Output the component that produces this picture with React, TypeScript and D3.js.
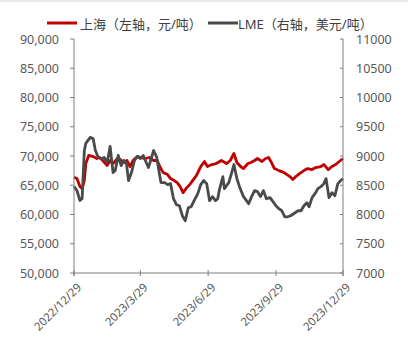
import React from "react";
import * as d3 from "d3";

const shDates = ["2022-12-29","2023-01-02","2023-01-06","2023-01-09","2023-01-12","2023-01-14","2023-01-18","2023-01-24","2023-01-29","2023-02-02","2023-02-06","2023-02-12","2023-02-16","2023-02-20","2023-02-26","2023-03-02","2023-03-07","2023-03-11","2023-03-15","2023-03-19","2023-03-25","2023-03-30","2023-04-05","2023-04-10","2023-04-16","2023-04-21","2023-04-25","2023-04-29","2023-05-05","2023-05-09","2023-05-14","2023-05-18","2023-05-22","2023-05-26","2023-05-31","2023-06-04","2023-06-08","2023-06-13","2023-06-19","2023-06-24","2023-06-28","2023-07-04","2023-07-10","2023-07-17","2023-07-24","2023-07-29","2023-08-03","2023-08-07","2023-08-12","2023-08-16","2023-08-22","2023-08-26","2023-08-31","2023-09-04","2023-09-10","2023-09-15","2023-09-19","2023-09-23","2023-09-27","2023-10-03","2023-10-07","2023-10-12","2023-10-18","2023-10-22","2023-10-26","2023-10-31","2023-11-06","2023-11-11","2023-11-17","2023-11-22","2023-11-29","2023-12-03","2023-12-09","2023-12-14","2023-12-19","2023-12-24","2023-12-29"];
const shValues = [66360,66140,64770,64420,65800,68710,70090,69910,69570,69740,69230,68370,69230,68710,69570,69400,68885,69230,68200,69230,69910,69740,69570,69740,69230,69230,68030,67170,66825,66140,65800,65450,64765,63735,64595,65110,65800,66650,68200,69060,68200,68540,68710,69230,68710,69230,70430,68885,68200,67855,68710,68885,69230,69570,69060,69570,69740,68885,67855,67510,67340,67000,66480,65970,66480,67000,67510,67855,67680,68030,68200,68540,67680,68200,68540,69060,69570];

const lmeDates = ["2022-12-29","2023-01-02","2023-01-06","2023-01-09","2023-01-12","2023-01-14","2023-01-17","2023-01-20","2023-01-24","2023-01-27","2023-01-31","2023-02-04","2023-02-08","2023-02-12","2023-02-16","2023-02-20","2023-02-23","2023-02-27","2023-03-03","2023-03-07","2023-03-10","2023-03-13","2023-03-17","2023-03-21","2023-03-25","2023-03-29","2023-04-02","2023-04-06","2023-04-09","2023-04-12","2023-04-16","2023-04-20","2023-04-22","2023-04-26","2023-05-01","2023-05-05","2023-05-09","2023-05-13","2023-05-17","2023-05-21","2023-05-25","2023-05-29","2023-06-02","2023-06-06","2023-06-10","2023-06-15","2023-06-19","2023-06-23","2023-06-27","2023-07-01","2023-07-05","2023-07-09","2023-07-12","2023-07-14","2023-07-19","2023-07-21","2023-07-24","2023-07-27","2023-07-31","2023-08-03","2023-08-07","2023-08-11","2023-08-16","2023-08-20","2023-08-23","2023-08-27","2023-08-31","2023-09-04","2023-09-08","2023-09-12","2023-09-16","2023-09-21","2023-09-25","2023-09-29","2023-10-03","2023-10-07","2023-10-11","2023-10-15","2023-10-19","2023-10-23","2023-10-29","2023-11-02","2023-11-06","2023-11-10","2023-11-13","2023-11-17","2023-11-21","2023-11-25","2023-11-29","2023-12-03","2023-12-06","2023-12-10","2023-12-14","2023-12-18","2023-12-22","2023-12-26","2023-12-29"];
const lmeValues = [8480,8410,8240,8270,9090,9215,9266,9318,9300,9094,8974,8957,8974,8888,9163,8717,8751,9009,8837,8923,8888,8580,8717,8923,8991,8957,9009,8888,8803,8923,9094,8991,8837,8545,8545,8511,8528,8270,8167,8150,7979,7893,8116,8133,8236,8356,8511,8580,8528,8236,8305,8236,8270,8408,8648,8442,8494,8545,8717,8854,8614,8459,8305,8236,8185,8305,8408,8391,8305,8408,8270,8288,8219,8150,8099,8064,7961,7961,7979,8013,8064,8064,8150,8202,8133,8288,8356,8442,8476,8528,8614,8288,8373,8322,8528,8580,8614];

const xTickDates = ["2022-12-29","2023-03-29","2023-06-29","2023-09-29","2023-12-29"];
const xTickLabels = ["2022/12/29","2023/3/29","2023/6/29","2023/9/29","2023/12/29"];
const leftTicks = [50000,55000,60000,65000,70000,75000,80000,85000,90000];
const rightTicks = [7000,7500,8000,8500,9000,9500,10000,10500,11000];
const legendLabels = ["上海（左轴，元/吨）","LME（右轴，美元/吨）"];

const RED = "#C00000";
const GRAY = "#4a4a4a";
const AXIS = "#7f7f7f";
const TEXT = "#595959";
const FONT = "'Noto Sans', 'Noto Sans CJK SC', sans-serif";

export default function App() {
  const parse = d3.timeParse("%Y-%m-%d");
  const left = 74, right = 343, top = 39, bottom = 273;
  const x = d3.scaleTime()
    .domain([parse("2022-12-29") as Date, parse("2023-12-29") as Date])
    .range([left, right]);
  const yL = d3.scaleLinear().domain([50000, 90000]).range([bottom, top]);
  const yR = d3.scaleLinear().domain([7000, 11000]).range([bottom, top]);

  const shData = shDates.map((d, i) => ({ d: parse(d) as Date, v: shValues[i] }));
  const lmeData = lmeDates.map((d, i) => ({ d: parse(d) as Date, v: lmeValues[i] }));

  const shLine = d3.line<{ d: Date; v: number }>().x(p => x(p.d)).y(p => yL(p.v));
  const lmeLine = d3.line<{ d: Date; v: number }>().x(p => x(p.d)).y(p => yR(p.v));
  const fmt = d3.format(",");

  return (
    <svg width={412} height={360} style={{ position: "absolute", left: 0, top: 0, background: "#fff" }} fontFamily={FONT}>
      <rect x={0} y={0} width={412} height={360} fill="#fff" />
      <line x1={0} x2={408} y1={1} y2={1} stroke="#d4d4d4" strokeWidth={1} />

      {/* legend */}
      <line x1={47} x2={77} y1={23} y2={23} stroke={RED} strokeWidth={3} />
      <text x={80} y={23.5} fontSize={13} fill="#404040" dominantBaseline="central">{legendLabels[0]}</text>
      <line x1={208} x2={238} y1={23} y2={23} stroke={GRAY} strokeWidth={3} />
      <text x={238} y={23.5} fontSize={13} fill="#404040" dominantBaseline="central">{legendLabels[1]}</text>

      {/* series */}
      <path d={shLine(shData) || ""} fill="none" stroke={RED} strokeWidth={2.8} strokeLinejoin="round" />
      <path d={lmeLine(lmeData) || ""} fill="none" stroke={GRAY} strokeWidth={2.8} strokeLinejoin="round" />

      {/* left axis */}
      <line x1={left} x2={left} y1={top} y2={bottom + 3} stroke={AXIS} strokeWidth={1} />
      {leftTicks.map(t => (
        <g key={"l" + t}>
          <line x1={left - 4} x2={left} y1={yL(t)} y2={yL(t)} stroke={AXIS} />
          <text x={59} y={yL(t)} fontSize={12.5} fill={TEXT} textAnchor="end" dominantBaseline="central">{fmt(t)}</text>
        </g>
      ))}

      {/* right axis */}
      <line x1={right} x2={right} y1={top} y2={bottom + 3} stroke={AXIS} strokeWidth={1} />
      {rightTicks.map(t => (
        <g key={"r" + t}>
          <line x1={right - 3} x2={right} y1={yR(t)} y2={yR(t)} stroke={AXIS} />
          <text x={356} y={yR(t)} fontSize={12.5} fill={TEXT} textAnchor="start" dominantBaseline="central">{t}</text>
        </g>
      ))}

      {/* bottom axis */}
      <line x1={left} x2={right} y1={bottom} y2={bottom} stroke={AXIS} strokeWidth={1} />
      {xTickDates.map((d, i) => {
        const xx = x(parse(d) as Date);
        return (
          <g key={"x" + d}>
            <line x1={xx} x2={xx} y1={bottom - 3} y2={bottom + 3} stroke={AXIS} />
            <text
              transform={`translate(${xx + 5},${bottom + 12}) rotate(-45)`}
              fontSize={11.5}
              fill={TEXT}
              textAnchor="end"
              dominantBaseline="central"
            >{xTickLabels[i]}</text>
          </g>
        );
      })}
    </svg>
  );
}
